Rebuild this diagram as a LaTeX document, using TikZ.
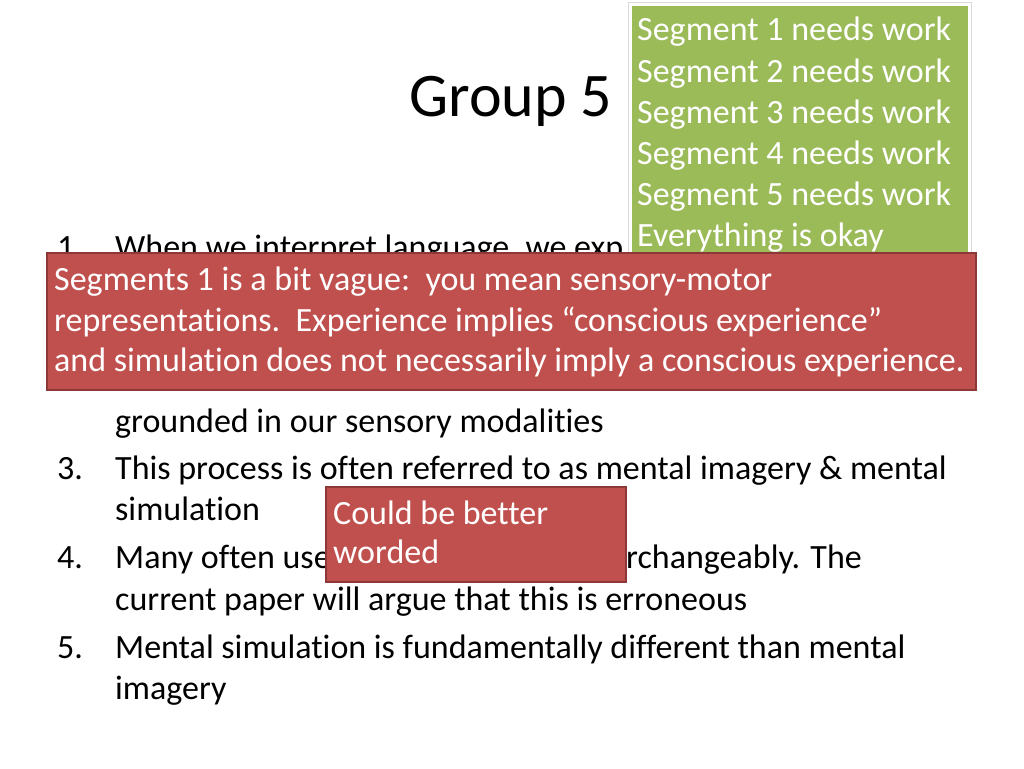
\documentclass[tikz,border=0pt]{standalone}
\usepackage{fontspec}
\setmainfont{Carlito}[Ligatures={NoCommon}]
\definecolor{notegreen}{RGB}{155,187,89}
\definecolor{notered}{RGB}{192,80,77}
\definecolor{noteredline}{RGB}{140,56,54}
\begin{document}
\begin{tikzpicture}
  [
  x=1pt, y=-1pt, font=\fontsize{34}{41}\selectfont,
  itemtext/.style={anchor=base west, inner sep=0pt},
  notetext/.style={anchor=base west, inner sep=0pt, text=white},
  ]
  \useasboundingbox (0,0) rectangle (1024,768);

  % title
  \node[anchor=base, inner sep=0pt, font=\fontsize{62}{70}\selectfont] (title) at (511,116) {Group 5};

  % list
  \node[itemtext] (n1) at (57,258) {1.};
  \node[itemtext] (t1) at (115,258) {When we interpret language, we exp};
  \node[itemtext] (t2c) at (115,432) {grounded in our sensory modalities};
  \node[itemtext] (n3) at (57,479) {3.};
  \node[itemtext] (t3) at (115,479) {This process is often referred to as mental imagery \& mental};
  \node[itemtext] (t3c) at (115,520) {simulation};
  \node[itemtext] (n4) at (57,568) {4.};
  \node[itemtext] (t4) at (115,568) {Many often use};
  \node[itemtext] (t4r) at (626,568) {rchangeably. The};
  \node[itemtext] (t4c) at (115,610) {current paper will argue that this is erroneous};
  \node[itemtext] (n5) at (57,658) {5.};
  \node[itemtext] (t5) at (115,658) {Mental simulation is fundamentally different than mental};
  \node[itemtext] (t5c) at (115,699) {imagery};

  % green note
  \fill[notegreen] (632,6) rectangle (968,262);
  \draw[gray!30] (628,2) rectangle (971,262);
  \foreach \txt [count=\i] in {Segment 1 needs work, Segment 2 needs work, Segment 3 needs work, Segment 4 needs work, Segment 5 needs work, Everything is okay}
    \node[notetext] (g\i) at (637,{41+41*(\i-1)}) {\txt};

  % red notes
  \draw[noteredline, fill=notered, line width=1.5pt] (47,253) rectangle (976,390);
  \node[notetext] (r1) at (54,290) {Segments 1 is a bit vague:\ \ you mean sensory-motor};
  \node[notetext] (r2) at (54,331) {representations.\ \ Experience implies “conscious experience”};
  \node[notetext] (r3) at (54,371) {and simulation does not necessarily imply a conscious experience.};

  \draw[noteredline, fill=notered, line width=1.5pt] (326,487) rectangle (626,582);
  \node[notetext] (c1) at (333,524) {Could be better};
  \node[notetext] (c2) at (333,563) {worded};
\end{tikzpicture}
\end{document}
